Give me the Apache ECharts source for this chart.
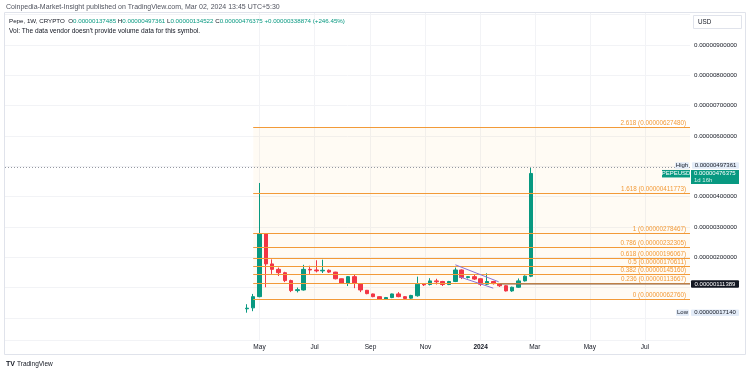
<!DOCTYPE html>
<html>
<head>
<meta charset="utf-8">
<script src="https://cdn.jsdelivr.net/npm/echarts@6/dist/echarts.min.js"></script>
<style>html,body{margin:0;padding:0;background:#fff}#c{width:750px;height:373px}</style>
</head>
<body>
<div id="c"></div>
<script>
// weekly candles (values in units of 0.000001 USD)
const dates = ['2023-04-17','2023-04-24','2023-05-01','2023-05-08','2023-05-15','2023-05-22','2023-05-29','2023-06-05','2023-06-12','2023-06-19','2023-06-26','2023-07-03','2023-07-10','2023-07-17','2023-07-24','2023-07-31','2023-08-07','2023-08-14','2023-08-21','2023-08-28','2023-09-04','2023-09-11','2023-09-18','2023-09-25','2023-10-02','2023-10-09','2023-10-16','2023-10-23','2023-10-30','2023-11-06','2023-11-13','2023-11-20','2023-11-27','2023-12-04','2023-12-11','2023-12-18','2023-12-25','2024-01-01','2024-01-08','2024-01-15','2024-01-22','2024-01-29','2024-02-05','2024-02-12','2024-02-19','2024-02-26'];
const opens  = [0.30,0.33,0.70,2.78,1.78,1.60,1.49,1.23,0.90,0.92,1.60,1.58,1.55,1.57,1.51,1.29,1.14,1.36,1.12,0.91,0.79,0.70,0.61,0.67,0.79,0.70,0.65,0.73,1.12,1.10,1.22,1.20,1.10,1.20,1.58,1.33,1.36,1.29,1.11,1.20,1.13,1.06,0.89,1.01,1.22,1.37485];
const highs  = [0.45,0.79,4.45,2.80,1.93,1.66,1.52,1.26,1.00,1.75,1.72,1.90,1.92,1.60,1.52,1.30,1.38,1.42,1.13,0.92,0.80,0.71,0.69,0.80,0.85,0.72,0.76,1.36,1.15,1.31,1.29,1.22,1.22,1.66,1.60,1.38,1.42,1.31,1.47,1.22,1.15,1.08,1.03,1.30,1.40,4.97361];
const lows   = [0.1714,0.22,0.68,1.01,1.45,1.38,1.18,0.85,0.84,0.90,1.45,1.50,1.48,1.48,1.27,1.12,1.05,0.98,0.85,0.78,0.68,0.60,0.59,0.65,0.68,0.62,0.63,0.70,1.05,1.07,1.10,1.05,1.08,1.18,1.28,1.30,1.25,1.05,1.08,1.10,1.02,0.87,0.86,0.99,1.20,1.34522];
const closes = [0.32,0.70,2.78,1.78,1.60,1.49,1.23,0.90,0.93,1.60,1.58,1.55,1.57,1.51,1.29,1.14,1.36,1.14,0.92,0.80,0.70,0.62,0.67,0.79,0.70,0.64,0.74,1.11,1.09,1.22,1.19,1.10,1.20,1.58,1.33,1.36,1.28,1.11,1.20,1.13,1.06,0.89,1.01,1.22,1.37485,4.76375];

// Fibonacci retracement levels
const fibRatios = ['0','0.236','0.382','0.5','0.618','0.786','1','1.618','2.618'];
const fibValues = [0.62760,1.13667,1.45160,1.70611,1.96067,2.32305,2.78467,4.11773,6.27480];
const fibStart = '2023-04-24';

// drawn lines
const flagUpper = [['2023-12-04',1.75],['2024-01-21',1.19]];
const flagLower = [['2023-12-08',1.36],['2024-01-15',0.98]];
const hLine = {start:'2024-01-22', value:1.11389};
const highValue = 4.97361, lowValue = 0.1714, lastValue = 4.76375;

// axes
const xRange = ['2022-07-23','2024-08-20'];
const xTickDates = ['2023-05-01','2023-07-01','2023-09-01','2023-11-01','2024-01-01','2024-03-01','2024-05-01','2024-07-01'];
const monthNames = ['Jan','Feb','Mar','Apr','May','Jun','Jul','Aug','Sep','Oct','Nov','Dec'];
const yRange = [-0.73, 10.09];
const yShown = [2,3,4,6,7,8,9];

const t = s => new Date(s + 'T00:00:00').getTime();
const fmt = v => (v * 1e-6).toFixed(11);
const xMax = t(xRange[1]);

const candles = dates.map((d,i) => [t(d), opens[i], closes[i], lows[i], highs[i]]);

const FONT = 'Liberation Sans';
const fibColor = '#f29a38';

const markLineData = [];
fibValues.forEach((v,i) => {
  markLineData.push([
    {coord:[t(fibStart), v], lineStyle:{color:fibColor, width:1, type:'solid', opacity:1},
     label:{show:true, position:'insideEndTop', distance:[4,1], color:fibColor, fontSize:6.3, fontFamily:FONT,
            formatter: fibRatios[i] + ' (' + fmt(v) + ')'}},
    {coord:[xMax, v]}
  ]);
});
markLineData.push([
  {coord:[t(hLine.start), hLine.value], lineStyle:{color:'rgba(150,110,80,0.75)', width:1.6, type:'solid'}, label:{show:false}},
  {coord:[xMax, hLine.value]}
]);
[flagUpper, flagLower].forEach(l => {
  markLineData.push([
    {coord:[t(l[0][0]), l[0][1]], lineStyle:{color:'#8a72d6', width:1, type:'solid'}, label:{show:false}},
    {coord:[t(l[1][0]), l[1][1]]}
  ]);
});
markLineData.push({yAxis: highValue, lineStyle:{color:'#9598a1', width:1, type:[1,2]}, label:{show:false}});

const chart = echarts.init(document.getElementById('c'), null, {renderer:'canvas'});
const option = {
  animation:false,
  backgroundColor:'#ffffff',
  textStyle:{fontFamily:FONT},
  grid:{left:5, right:60, top:12, bottom:33},
  xAxis:{
    type:'value', min:t(xRange[0]), max:xMax,
    axisLine:{show:false}, axisTick:{show:false, customValues:xTickDates.map(t)},
    splitLine:{show:true, lineStyle:{color:'#f2f3f6', width:1}},
    axisLabel:{
      customValues:xTickDates.map(t), margin:4, fontSize:6.5, color:'#131722', fontFamily:FONT,
      formatter:v => { const d = new Date(v); return d.getMonth() === 0 ? '{y|' + d.getFullYear() + '}' : monthNames[d.getMonth()]; },
      rich:{y:{fontWeight:'bold', fontSize:6.5, color:'#131722', fontFamily:FONT}}
    }
  },
  yAxis:{
    type:'value', position:'right', min:yRange[0], max:yRange[1], splitNumber:10, scale:true,
    axisLine:{show:false}, axisTick:{show:false},
    splitLine:{show:true, lineStyle:{color:'#f2f3f6', width:1}},
    axisLabel:{
      margin:4, fontSize:6.2, color:'#131722', fontFamily:FONT,
      formatter:v => yShown.some(s => Math.abs(s - v) < 1e-6) ? fmt(v) : ''
    }
  },
  series:[{
    type:'candlestick',
    data:candles,
    barWidth:4,
    itemStyle:{color:'#089981', color0:'#f23645', borderColor:'#089981', borderColor0:'#f23645', borderWidth:1},
    markArea:{
      silent:true,
      itemStyle:{color:'rgba(255,152,0,0.045)'},
      data:[[{coord:[t(fibStart), fibValues[0]]},{coord:[xMax, fibValues[fibValues.length-1]]}]]
    },
    markLine:{silent:true, symbol:['none','none'], animation:false, data:markLineData}
  }]
};
chart.setOption(option);

// overlay text and price tags (positions from the chart's own y scale)
const yPx = v => chart.convertToPixel({yAxisIndex:0}, v);
const tagFont = '6px ' + FONT;
function tag(xLeft, w, yc, h, bg, color, text) {
  return [
    {type:'rect', shape:{x:xLeft, y:yc - h/2, width:w, height:h, r:1}, style:{fill:bg}, z:100},
    {type:'text', style:{x:xLeft + w/2, y:yc, text:text, fill:color, font:tagFont, align:'center', verticalAlign:'middle'}, z:101}
  ];
}
const yHigh = yPx(highValue), yLast = yPx(lastValue), yLow = yPx(lowValue), yH = yPx(hLine.value);
const g = [
  {type:'rect', shape:{x:4.5, y:12.5, width:741, height:342}, style:{fill:'none', stroke:'#e0e3eb', lineWidth:1}, z:90},
  {type:'text', style:{x:6, y:7, text:'Coinpedia-Market-Insight published on TradingView.com, Mar 02, 2024 13:45 UTC+5:30', fill:'#50535e', font:'7px ' + FONT, verticalAlign:'middle'}},
  {type:'text', style:{x:9, y:21, verticalAlign:'middle', font:'6.2px ' + FONT,
     rich:{d:{fill:'#131722', font:'6.2px ' + FONT}, g:{fill:'#089981', font:'6.2px ' + FONT}},
     text:'{d|Pepe, 1W, CRYPTO  O}{g|0.00000137485}{d| H}{g|0.00000497361}{d| L}{g|0.00000134522}{d| C}{g|0.00000476375}{g| +0.00000338874 (+246.45%)}'}},
  {type:'text', style:{x:9, y:31, text:"Vol: The data vendor doesn't provide volume data for this symbol.", fill:'#131722', font:'6.6px ' + FONT, verticalAlign:'middle'}},
  {type:'rect', shape:{x:693.5, y:15.5, width:48, height:13}, style:{fill:'#fff', stroke:'#e0e3eb', lineWidth:1}},
  {type:'text', style:{x:698, y:22, text:'USD', fill:'#131722', font:'6.3px ' + FONT, verticalAlign:'middle'}},
  {type:'text', style:{x:6, y:364, text:'TV', fill:'#131722', font:'bold 7px ' + FONT, verticalAlign:'middle'}},
  {type:'text', style:{x:17, y:364, text:'TradingView', fill:'#131722', font:'6.5px ' + FONT, verticalAlign:'middle'}}
];
g.push(...tag(675, 14, yHigh - 1.5, 6.5, '#e3ecf8', '#131722', 'High'));
g.push(...tag(692, 47, yHigh - 1.5, 6.5, '#e3ecf8', '#131722', fmt(highValue)));
g.push({type:'rect', shape:{x:662, y:yLast - 3.5, width:28, height:7.5}, style:{fill:'#089981'}, z:100});
g.push({type:'text', style:{x:676, y:yLast, text:'PEPEUSD', fill:'#fff', font:tagFont, align:'center', verticalAlign:'middle'}, z:101});
g.push({type:'rect', shape:{x:691, y:yLast - 3.5, width:48, height:14}, style:{fill:'#089981'}, z:100});
g.push({type:'text', style:{x:694, y:yLast, text:fmt(lastValue), fill:'#fff', font:tagFont, verticalAlign:'middle'}, z:101});
g.push({type:'text', style:{x:694, y:yLast + 7, text:'1d 16h', fill:'#d7f0ea', font:tagFont, verticalAlign:'middle'}, z:101});
g.push(...tag(691, 48, yH, 7.5, '#131722', '#ffffff', fmt(hLine.value)));
g.push(...tag(676, 13, yLow, 6.5, '#e3ecf8', '#131722', 'Low'));
g.push(...tag(691, 48, yLow, 6.5, '#e3ecf8', '#131722', fmt(lowValue)));
chart.setOption({graphic:g});
</script>
</body>
</html>
